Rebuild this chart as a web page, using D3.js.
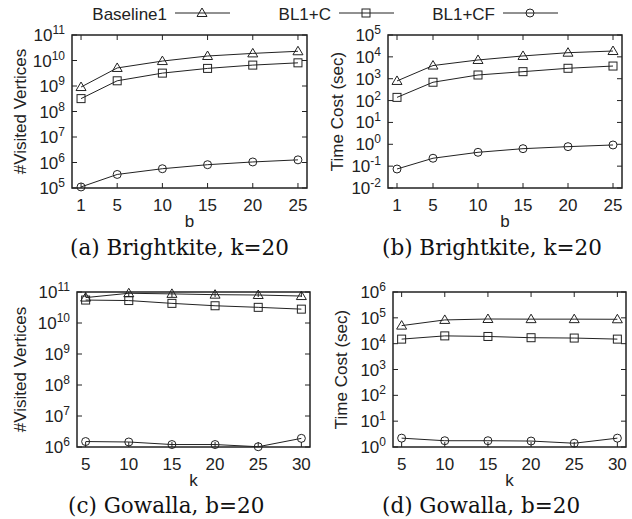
<!DOCTYPE html>
<html>
<head>
<meta charset="utf-8">
<script src="https://cdn.jsdelivr.net/npm/d3@7"></script>
<style>
  body { margin: 0; background: #fff; }
  svg { display: block; }
</style>
</head>
<body>
<div id="chart"></div>
<script>
// x values
const bValues = [1, 5, 10, 15, 20, 25];
const kValues = [5, 10, 15, 20, 25, 30];
const seriesNames = ["Baseline1", "BL1+C", "BL1+CF"];
const seriesMarkers = ["triangle", "square", "circle"];

// (a) Brightkite, k=20 : #visited vertices vs b
const bkVisitedBaseline1 = [9.1e8, 5.1e9, 9.5e9, 1.5e10, 1.9e10, 2.3e10];
const bkVisitedBL1C = [3.2e8, 1.6e9, 3.2e9, 4.9e9, 6.6e9, 8.1e9];
const bkVisitedBL1CF = [1.1e5, 3.4e5, 5.7e5, 8.2e5, 1.05e6, 1.27e6];

// (b) Brightkite, k=20 : time cost vs b
const bkTimeBaseline1 = [790, 4000, 7200, 11000, 15500, 18500];
const bkTimeBL1C = [140, 690, 1480, 2100, 3000, 3800];
const bkTimeBL1CF = [0.074, 0.23, 0.43, 0.63, 0.78, 0.93];

// (c) Gowalla, b=20 : #visited vertices vs k
const gwVisitedBaseline1 = [6.6e10, 9.1e10, 8.7e10, 8.2e10, 8.0e10, 7.4e10];
const gwVisitedBL1C = [5.5e10, 5.3e10, 4.3e10, 3.6e10, 3.2e10, 2.8e10];
const gwVisitedBL1CF = [1.5e6, 1.45e6, 1.2e6, 1.2e6, 1.02e6, 1.9e6];

// (d) Gowalla, b=20 : time cost vs k
const gwTimeBaseline1 = [50000, 83000, 90000, 89000, 89000, 88000];
const gwTimeBL1C = [15000, 20000, 19000, 17000, 16500, 15000];
const gwTimeBL1CF = [2.2, 1.75, 1.75, 1.7, 1.4, 2.2];

const width = 632, height = 519;
const sansFont = "'Liberation Sans', Arial, sans-serif";
const serifFont = "'DejaVu Serif', serif";
const ink = "#222";

const panels = [
  {
    frame: { left: 72, right: 307, top: 35, bottom: 188 },
    xDomain: [0, 26], xTicks: bValues, yDomain: [1e5, 1e11],
    xLabel: "b", yLabel: "#Visited Vertices", yTitleX: 20,
    series: [bkVisitedBaseline1, bkVisitedBL1C, bkVisitedBL1CF],
    caption: "(a) Brightkite, k=20", captionX: 70, captionY: 255
  },
  {
    frame: { left: 388, right: 622, top: 35, bottom: 188 },
    xDomain: [0, 26], xTicks: bValues, yDomain: [1e-2, 1e5],
    xLabel: "b", yLabel: "Time Cost (sec)", yTitleX: 337,
    series: [bkTimeBaseline1, bkTimeBL1C, bkTimeBL1CF],
    caption: "(b) Brightkite, k=20", captionX: 382, captionY: 255
  },
  {
    frame: { left: 77, right: 310, top: 292, bottom: 447 },
    xDomain: [4, 31], xTicks: kValues, yDomain: [1e6, 1e11],
    xLabel: "k", yLabel: "#Visited Vertices", yTitleX: 20,
    series: [gwVisitedBaseline1, gwVisitedBL1C, gwVisitedBL1CF],
    caption: "(c) Gowalla, b=20", captionX: 68, captionY: 513
  },
  {
    frame: { left: 393, right: 626, top: 292, bottom: 447 },
    xDomain: [4, 31], xTicks: kValues, yDomain: [1, 1e6],
    xLabel: "k", yLabel: "Time Cost (sec)", yTitleX: 341,
    series: [gwTimeBaseline1, gwTimeBL1C, gwTimeBL1CF],
    caption: "(d) Gowalla, b=20", captionX: 382, captionY: 513
  }
];

const svg = d3.select("#chart").append("svg")
  .attr("width", width)
  .attr("height", height);

function drawMarker(g, type, cx, cy) {
  if (type === "triangle") {
    g.append("path")
      .attr("d", `M${cx},${cy - 5}L${cx + 5},${cy + 3.5}L${cx - 5},${cy + 3.5}Z`)
      .attr("fill", "none").attr("stroke", ink).attr("stroke-width", 1);
  } else if (type === "square") {
    g.append("rect")
      .attr("x", cx - 4).attr("y", cy - 4).attr("width", 8).attr("height", 8)
      .attr("fill", "none").attr("stroke", ink).attr("stroke-width", 1);
  } else {
    g.append("circle")
      .attr("cx", cx).attr("cy", cy).attr("r", 4)
      .attr("fill", "none").attr("stroke", ink).attr("stroke-width", 1);
  }
}

panels.forEach(p => {
  const f = p.frame;
  const g = svg.append("g");

  const x = d3.scaleLinear().domain(p.xDomain).range([f.left, f.right]);
  const y = d3.scaleLog().domain(p.yDomain).range([f.bottom, f.top]);

  const lo = Math.round(Math.log10(p.yDomain[0]));
  const hi = Math.round(Math.log10(p.yDomain[1]));
  const exps = d3.range(lo, hi + 1);

  // y ticks, inward on both sides
  exps.forEach(e => {
    const yy = y(Math.pow(10, e));
    g.append("line").attr("x1", f.left).attr("x2", f.left + 5)
      .attr("y1", yy).attr("y2", yy).attr("stroke", ink);
    g.append("line").attr("x1", f.right).attr("x2", f.right - 5)
      .attr("y1", yy).attr("y2", yy).attr("stroke", ink);

    const t = g.append("text")
      .attr("x", f.left - 7)
      .attr("y", yy + 6)
      .attr("text-anchor", "end")
      .attr("font-family", sansFont)
      .attr("font-size", 17)
      .attr("fill", ink);
    t.append("tspan").text("10");
    t.append("tspan").attr("dy", -7).attr("font-size", 12).text(String(e));
  });

  // x ticks, inward on top and bottom
  p.xTicks.forEach(v => {
    const xx = x(v);
    g.append("line").attr("x1", xx).attr("x2", xx)
      .attr("y1", f.bottom).attr("y2", f.bottom - 5).attr("stroke", ink);
    g.append("line").attr("x1", xx).attr("x2", xx)
      .attr("y1", f.top).attr("y2", f.top + 5).attr("stroke", ink);
    g.append("text")
      .attr("x", xx)
      .attr("y", f.bottom + 23)
      .attr("text-anchor", "middle")
      .attr("font-family", sansFont)
      .attr("font-size", 17)
      .attr("fill", ink)
      .text(v);
  });

  // series lines + markers
  p.series.forEach((vals, i) => {
    const pts = p.xTicks.map((v, j) => [v, vals[j]]);
    g.append("path")
      .datum(pts)
      .attr("fill", "none")
      .attr("stroke", ink)
      .attr("stroke-width", 1)
      .attr("d", d3.line().x(d => x(d[0])).y(d => y(d[1])));
    pts.forEach(d => drawMarker(g, seriesMarkers[i], x(d[0]), y(d[1])));
  });

  // frame
  g.append("rect")
    .attr("x", f.left).attr("y", f.top)
    .attr("width", f.right - f.left).attr("height", f.bottom - f.top)
    .attr("fill", "none").attr("stroke", ink).attr("stroke-width", 1.5);

  // axis titles
  g.append("text")
    .attr("x", (f.left + f.right) / 2)
    .attr("y", f.bottom + 39)
    .attr("text-anchor", "middle")
    .attr("font-family", sansFont)
    .attr("font-size", 17)
    .attr("fill", ink)
    .text(p.xLabel);

  g.append("text")
    .attr("transform", `translate(${p.yTitleX},${(f.top + f.bottom) / 2}) rotate(-90)`)
    .attr("dy", "0.35em")
    .attr("text-anchor", "middle")
    .attr("font-family", sansFont)
    .attr("font-size", 17)
    .attr("fill", ink)
    .text(p.yLabel);

  // caption
  g.append("text")
    .attr("x", p.captionX)
    .attr("y", p.captionY)
    .attr("font-family", serifFont)
    .attr("font-size", 21.5)
    .attr("fill", "#111")
    .text(p.caption);
});

// legend across the top
const legendEnds = [167, 331, 495];
const legend = svg.append("g");
seriesNames.forEach((name, i) => {
  const ex = legendEnds[i];
  legend.append("text")
    .attr("x", ex)
    .attr("y", 20)
    .attr("text-anchor", "end")
    .attr("font-family", sansFont)
    .attr("font-size", 17)
    .attr("fill", ink)
    .text(name);
  legend.append("line")
    .attr("x1", ex + 8).attr("x2", ex + 63)
    .attr("y1", 13).attr("y2", 13)
    .attr("stroke", ink).attr("stroke-width", 1);
  drawMarker(legend, seriesMarkers[i], ex + 35, 13);
});
</script>
</body>
</html>
